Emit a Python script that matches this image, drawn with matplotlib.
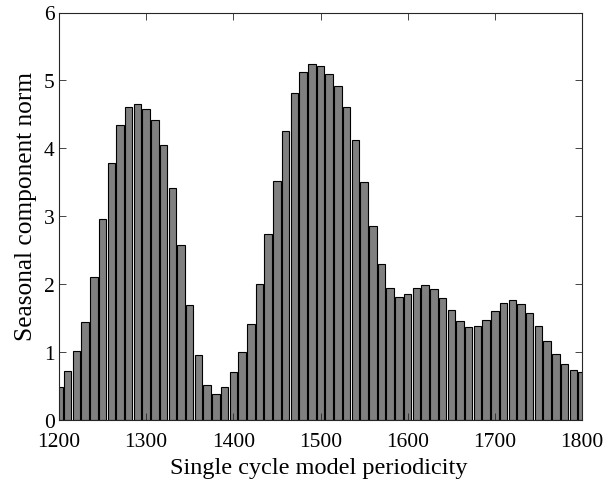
import matplotlib
matplotlib.use("Agg")
import matplotlib.pyplot as plt
import numpy as np

periods = list(range(1200, 1801, 10))
norms = [0.48, 0.72, 1.01, 1.44, 2.11, 2.96, 3.78, 4.35, 4.61, 4.65,
         4.58, 4.42, 4.05, 3.41, 2.58, 1.69, 0.95, 0.52, 0.39, 0.49,
         0.71, 1.00, 1.41, 2.00, 2.74, 3.52, 4.25, 4.81, 5.13, 5.24,
         5.21, 5.10, 4.92, 4.61, 4.13, 3.51, 2.86, 2.30, 1.94, 1.81,
         1.85, 1.94, 1.99, 1.93, 1.79, 1.62, 1.46, 1.37, 1.38, 1.47,
         1.61, 1.72, 1.77, 1.71, 1.57, 1.38, 1.17, 0.97, 0.83, 0.74, 0.71]
xticks = [1200, 1300, 1400, 1500, 1600, 1700, 1800]
yticks = [0, 1, 2, 3, 4, 5, 6]

plt.rcParams['font.family'] = ['Liberation Serif', 'DejaVu Serif']

fig = plt.figure(figsize=(6.16, 4.81), dpi=100)
ax = fig.add_axes([59/616, 1-421/481, (582-59)/616, (421-13.5)/481])
ax.bar(periods, norms, width=8.6, color='#808080', edgecolor='black', linewidth=0.8)
ax.set_xlim(1200, 1800)
ax.set_ylim(0, 6)
ax.set_xticks(xticks)
ax.set_yticks(yticks)
ax.tick_params(direction='in', labelsize=15.5, length=5, width=0.6, color='#262626',
               top=True, right=True)
ax.tick_params(axis='x', pad=9)
ax.tick_params(axis='y', pad=3)
for s in ax.spines.values():
    s.set_linewidth(0.8)
    s.set_color('#262626')
ax.set_xlabel('Single cycle model periodicity', fontsize=17.5)
ax.set_ylabel('Seasonal component norm', fontsize=18.3)
ax.xaxis.set_label_coords(0.497, -0.09)
ax.yaxis.set_label_coords(-0.043, 0.527)
fig.savefig('out.png', dpi=100)
